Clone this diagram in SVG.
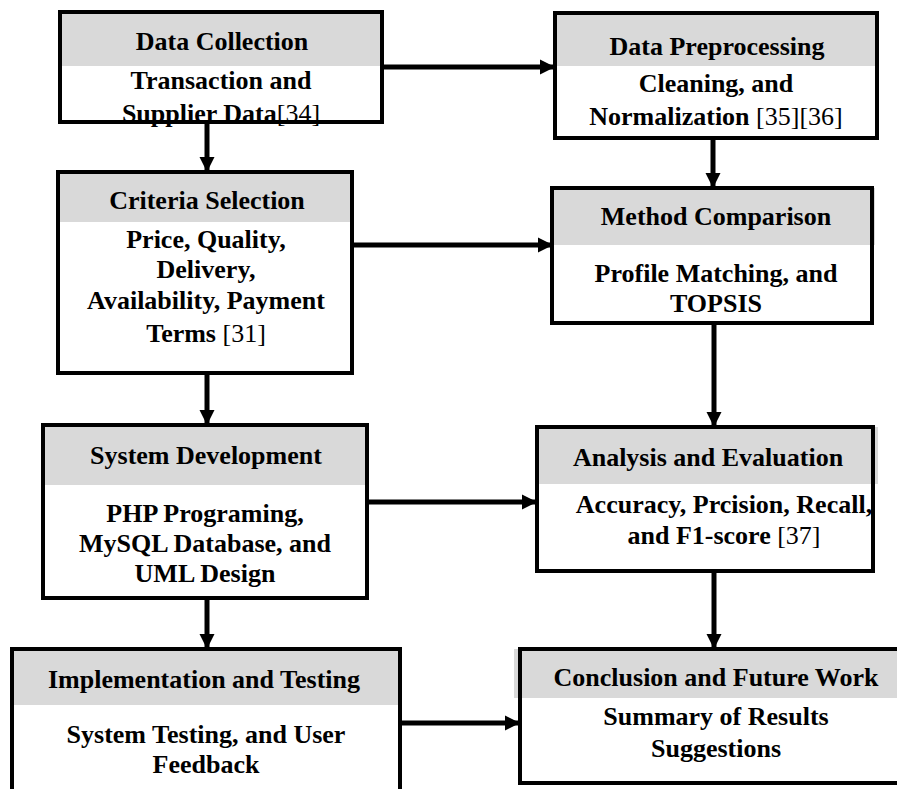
<svg xmlns="http://www.w3.org/2000/svg" width="897" height="789" viewBox="0 0 897 789">
<style>
.hdr{fill:#d9d9d9}
.box{fill:none;stroke:#000;stroke-width:4}
.bg{fill:#fff}
text{font-family:"Liberation Serif","Times New Roman",serif;font-weight:bold;font-size:26px;fill:#000;text-anchor:middle}
.n{font-weight:normal}
.c{stroke:#000;stroke-width:5;fill:none}
</style>
<defs>
<marker id="ah" markerUnits="userSpaceOnUse" markerWidth="16" markerHeight="16" viewBox="0 0 16 16" refX="15" refY="8" orient="auto">
<polygon points="0,0.5 15,8 0,15.5" fill="#000"/>
</marker>
</defs>
<rect width="897" height="789" fill="#fff"/>
<g id="connectors">
<line class="c" x1="384" y1="67" x2="555" y2="67" marker-end="url(#ah)"/>
<line class="c" x1="207" y1="124" x2="207" y2="172" marker-end="url(#ah)"/>
<line class="c" x1="354" y1="245" x2="553" y2="245" marker-end="url(#ah)"/>
<line class="c" x1="713" y1="140" x2="713" y2="188" marker-end="url(#ah)"/>
<line class="c" x1="207" y1="375" x2="207" y2="425" marker-end="url(#ah)"/>
<line class="c" x1="714" y1="325" x2="714" y2="427" marker-end="url(#ah)"/>
<line class="c" x1="369" y1="502" x2="537" y2="502" marker-end="url(#ah)"/>
<line class="c" x1="207" y1="600" x2="207" y2="649" marker-end="url(#ah)"/>
<line class="c" x1="714" y1="573" x2="714" y2="649" marker-end="url(#ah)"/>
<line class="c" x1="402" y1="723" x2="520" y2="723" marker-end="url(#ah)"/>
</g>
<g id="data-collection">
<rect class="bg" x="60" y="12" width="322" height="110"/>
<rect class="hdr" x="60" y="12" width="322" height="54"/>
<rect class="box" x="60" y="12" width="322" height="110"/>
<text x="222" y="50">Data Collection</text>
<text x="221" y="89">Transaction and</text>
<text x="221" y="122">Supplier Data<tspan class="n">[34]</tspan></text>
</g>
<g id="data-preprocessing">
<rect class="bg" x="555" y="13" width="322" height="125"/>
<rect class="hdr" x="555" y="13" width="322" height="53"/>
<rect class="box" x="555" y="13" width="322" height="125"/>
<text x="717" y="55">Data Preprocessing</text>
<text x="716" y="92">Cleaning, and</text>
<text x="716" y="125">Normalization <tspan class="n">[35][36]</tspan></text>
</g>
<g id="criteria-selection">
<rect class="bg" x="58" y="172" width="294" height="201"/>
<rect class="hdr" x="58" y="172" width="296" height="50"/>
<rect class="box" x="58" y="172" width="294" height="201"/>
<text x="207" y="209">Criteria Selection</text>
<text x="206" y="248">Price, Quality,</text>
<text x="206" y="278">Delivery,</text>
<text x="206" y="309">Availability, Payment</text>
<text x="206" y="342">Terms <tspan class="n">[31]</tspan></text>
</g>
<g id="method-comparison">
<rect class="bg" x="552" y="188" width="320" height="135"/>
<rect class="hdr" x="552" y="188" width="323" height="57"/>
<rect class="box" x="552" y="188" width="320" height="135"/>
<text x="716" y="225">Method Comparison</text>
<text x="716" y="282">Profile Matching, and</text>
<text x="716" y="312">TOPSIS</text>
</g>
<g id="system-development">
<rect class="bg" x="43" y="425" width="324" height="173"/>
<rect class="hdr" x="43" y="425" width="324" height="60"/>
<rect class="box" x="43" y="425" width="324" height="173"/>
<text x="206" y="464">System Development</text>
<text x="205" y="522">PHP Programing,</text>
<text x="205" y="552">MySQL Database, and</text>
<text x="205" y="582">UML Design</text>
</g>
<g id="analysis-evaluation">
<rect class="bg" x="537" y="427" width="336" height="144"/>
<rect class="hdr" x="537" y="427" width="341" height="57"/>
<rect class="box" x="537" y="427" width="336" height="144"/>
<text x="708" y="466">Analysis and Evaluation</text>
<text x="724" y="513">Accuracy, Prcision, Recall,</text>
<text x="724" y="544">and F1-score <tspan class="n">[37]</tspan></text>
</g>
<g id="implementation-testing">
<rect class="bg" x="12" y="649" width="388" height="150"/>
<rect class="hdr" x="12" y="649" width="388" height="56"/>
<rect class="box" x="12" y="649" width="388" height="150"/>
<text x="204" y="688">Implementation and Testing</text>
<text x="206" y="743">System Testing, and User</text>
<text x="206" y="773">Feedback</text>
</g>
<g id="conclusion-future-work">
<rect class="bg" x="520" y="649" width="385" height="134"/>
<rect class="hdr" x="514" y="649" width="391" height="49"/>
<rect class="box" x="520" y="649" width="385" height="134"/>
<text x="716" y="686">Conclusion and Future Work</text>
<text x="716" y="725">Summary of Results</text>
<text x="716" y="757">Suggestions</text>
</g>
</svg>
